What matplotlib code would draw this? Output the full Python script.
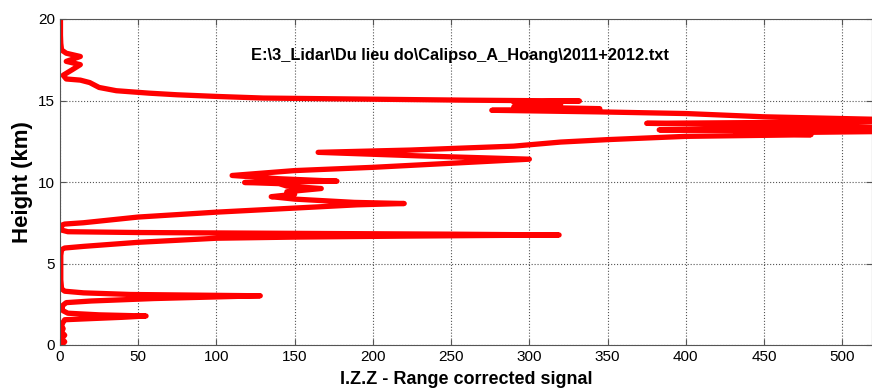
import numpy as np
import matplotlib
matplotlib.use('Agg')
import matplotlib.pyplot as plt

# lidar range corrected signal profile
height = [0.0, 0.2, 0.4, 0.6, 0.8, 1.0, 1.2, 1.4, 1.55, 1.62, 1.7, 1.78, 1.85, 1.95, 2.1,
          2.3, 2.45, 2.6, 2.7, 2.85, 2.95, 3.02, 3.1, 3.2, 3.3, 3.45, 4.0, 4.5, 5.0, 5.5,
          5.85, 5.95, 6.05, 6.3, 6.55, 6.62, 6.68, 6.75, 6.8, 6.85, 6.9, 6.95, 7.05, 7.35,
          7.42, 7.5, 7.85, 8.15, 8.45, 8.6, 8.68, 8.75, 8.95, 9.1, 9.25, 9.4, 9.6, 9.75,
          9.9, 9.97, 10.05, 10.2, 10.4, 10.7, 10.9, 11.1, 11.4, 11.6, 11.82, 11.96, 12.2,
          12.45, 12.6, 12.8, 12.9, 13.0, 13.1, 13.2, 13.3, 13.45, 13.6, 13.72, 13.85, 14.0,
          14.2, 14.3, 14.4, 14.5, 14.6, 14.75, 14.9, 14.97, 15.02, 15.08, 15.15, 15.25,
          15.35, 15.45, 15.6, 15.8, 16.1, 16.25, 16.32, 16.55, 16.9, 17.2, 17.4, 17.7,
          17.9, 18.1, 18.5, 19.0, 20.0]
signal = [1, 3, 1, 3, 1, 2, 1, 2, 3, 20, 40, 55, 25, 5, 2,
          1, 2, 4, 20, 60, 100, 128, 45, 15, 3, 1, 0.5, 0.5, 0.5, 0.5,
          1, 3, 15, 50, 100, 150, 220, 319, 250, 150, 50, 5, 1, 1,
          3, 15, 50, 100, 160, 190, 220, 188, 150, 135, 150, 145, 167, 145,
          140, 118, 177, 140, 110, 150, 200, 240, 300, 230, 165, 224, 290,
          320, 350, 400, 480, 432, 530, 383, 540, 470, 375, 560, 520, 450,
          400, 345, 276, 345, 290, 320, 290, 332, 260, 200, 130, 100,
          75, 57, 36, 25, 19, 13, 4, 2, 8, 13, 4, 13,
          4, 1, 0.5, 0.3, 0.3]

xticks = [0, 50, 100, 150, 200, 250, 300, 350, 400, 450, 500]
yticks = [0, 5, 10, 15, 20]
file_name = r'E:\3_Lidar\Du lieu do\Calipso_A_Hoang\2011+2012.txt'

plt.rcParams['font.family'] = ['Liberation Sans', 'DejaVu Sans']

fig = plt.figure(figsize=(8.72, 3.9), dpi=100)
ax = fig.add_axes([60/872, 45/390, 1 - 60/872, 326/390])

ax.plot(signal, height, c='#ff0000', lw=3.8, solid_joinstyle='round')

ax.set_xlim(0, 519)
ax.set_ylim(0, 20)
ax.set_xticks(xticks)
ax.set_yticks(yticks)
ax.tick_params(direction='in', top=True, right=True, labelsize=11, length=4, color='#555555')
for s in ax.spines.values():
    s.set_color('#555555')
ax.grid(True, ls=':', c='#555555', lw=0.8)

ax.text(122, 17.75, file_name, fontsize=11.8, fontweight='bold', va='center')
ax.set_xlabel('I.Z.Z - Range corrected signal', fontsize=13, fontweight='bold', labelpad=5)
ax.set_ylabel('Height (km)', fontsize=16, fontweight='bold', labelpad=4)

fig.savefig('out.png', dpi=100)
